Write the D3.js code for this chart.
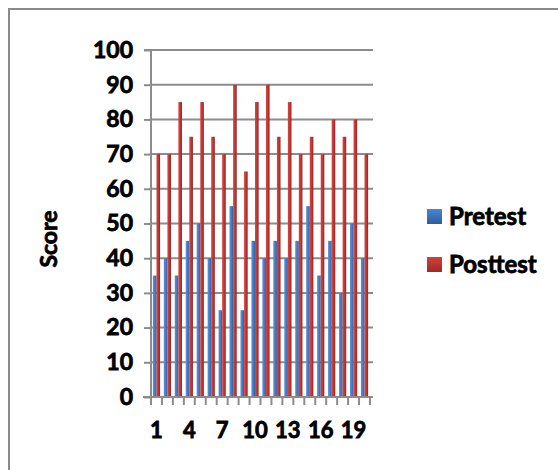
<!DOCTYPE html>
<html><head><meta charset="utf-8">
<script src="https://cdn.jsdelivr.net/npm/d3@7"></script>
<style>body{margin:0;background:#fff}svg{display:block}text{font-family:Lato,"Open Sans",sans-serif;font-weight:700;fill:#000;stroke:#000;stroke-width:0.8px;paint-order:stroke}</style>
</head><body>
<svg id="c" width="558" height="470"></svg>
<script>
const categories = d3.range(1, 21).map(String);
const pretest  = [35,40,35,45,50,40,25,55,25,45,40,45,40,45,55,35,45,30,50,40];
const posttest = [70,70,85,75,85,75,70,90,65,85,90,75,85,70,75,70,80,75,80,70];
const seriesNames = ["Pretest","Posttest"];
const yTicks = [0,10,20,30,40,50,60,70,80,90,100];
const xTickLabels = ["1","4","7","10","13","16","19"];

const svg = d3.select("#c");
const defs = svg.append("defs");
function grad(id, c1, c2, c3){
  const g = defs.append("linearGradient").attr("id", id).attr("x1","0").attr("x2","1").attr("y1","0").attr("y2","0");
  g.append("stop").attr("offset","0").attr("stop-color",c1);
  g.append("stop").attr("offset","0.45").attr("stop-color",c2);
  g.append("stop").attr("offset","1").attr("stop-color",c3);
}
grad("gb","#5b8fd6","#4a7fcb","#2f5f9f");
grad("gr","#d8433f","#c63a36","#8f2624");
const legGrad = (id,c1,c2)=>{const g=defs.append("linearGradient").attr("id",id).attr("x1","0").attr("x2","0").attr("y1","0").attr("y2","1");
  g.append("stop").attr("offset","0").attr("stop-color",c1);g.append("stop").attr("offset","1").attr("stop-color",c2);};
legGrad("lb","#4a86d4","#2e5c9a");
legGrad("lr","#d63f3b","#9d2a28");

// outer frame
svg.append("path").attr("d","M9,470 V9 H558").attr("fill","none").attr("stroke","#8a8a8a").attr("stroke-width",2);

const x0 = 151, x1 = 370, yTop = 50, yBot = 397;
const x = d3.scaleBand().domain(categories).range([x0, x1]).paddingInner(0).paddingOuter(0);
const y = d3.scaleLinear().domain([0,100]).range([yBot, yTop]);

// gridlines
svg.append("g").selectAll("line").data(yTicks).join("line")
  .attr("x1", x0).attr("x2", x1 + 3).attr("y1", d=>y(d)).attr("y2", d=>y(d))
  .attr("stroke","#8c8c8c").attr("stroke-width",2);

// y axis
const ya = svg.append("g").attr("transform",`translate(${x0},0)`)
  .call(d3.axisLeft(y).tickValues(yTicks).tickSize(7).tickPadding(11));
ya.select(".domain").attr("stroke","#8c8c8c").attr("stroke-width",2).attr("d",`M-7,${yTop}H0V${yBot}`);
ya.selectAll(".tick line").attr("stroke","#8c8c8c").attr("stroke-width",2);
ya.selectAll(".tick text").style("font-size","23px").style("font-family","Lato,sans-serif").style("font-weight","700")
  .style("fill","#000").style("stroke","#000").style("stroke-width","0.8px");

// bars
const bw = x.bandwidth();
const barW = 3.6;
const g = svg.append("g");
g.selectAll(".pre").data(pretest).join("rect")
  .attr("x",(d,i)=>x(categories[i]) + bw/2 - barW).attr("width",barW)
  .attr("y",d=>y(d)).attr("height",d=>y(0)-y(d)).attr("fill","url(#gb)");
g.selectAll(".post").data(posttest).join("rect")
  .attr("x",(d,i)=>x(categories[i]) + bw/2).attr("width",barW)
  .attr("y",d=>y(d)).attr("height",d=>y(0)-y(d)).attr("fill","url(#gr)");

// x axis
const xa = svg.append("g").attr("transform",`translate(0,${yBot})`);
xa.append("line").attr("x1",x0-8).attr("x2",x1+3).attr("y1",0).attr("y2",0).attr("stroke","#8c8c8c").attr("stroke-width",2);
const bounds = categories.map(c=>x(c)).concat([x1]);
xa.selectAll(".tk").data(bounds).join("line").attr("x1",d=>d).attr("x2",d=>d).attr("y1",0).attr("y2",8)
  .attr("stroke","#8c8c8c").attr("stroke-width",2);
xa.selectAll(".lb").data(xTickLabels).join("text")
  .attr("x",d=>x(d)+bw/2).attr("y",41).attr("text-anchor","middle").style("font-size","22px").text(d=>d);

// y title
svg.append("text").attr("transform","translate(57,239) rotate(-90)").attr("text-anchor","middle")
  .style("font-size","23px").text("Score");

// legend
const leg = svg.append("g");
const lgY = [209, 257];
leg.selectAll("rect").data(seriesNames).join("rect")
  .attr("x",427).attr("y",(d,i)=>lgY[i]).attr("width",15).attr("height",15)
  .attr("fill",(d,i)=> i===0 ? "url(#lb)" : "url(#lr)");
leg.selectAll("text").data(seriesNames).join("text")
  .attr("x",449).attr("y",(d,i)=>lgY[i]+16).style("font-size","24px").text(d=>d);
</script>
</body></html>
